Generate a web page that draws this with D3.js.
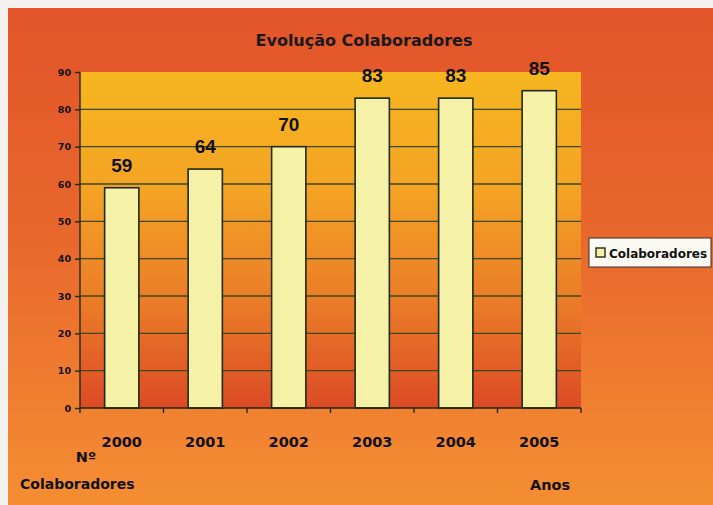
<!DOCTYPE html>
<meta charset="utf-8">
<script src="https://d3js.org/d3.v7.min.js"></script>
<style>
  body { margin: 0; background: #f4f2ee; }
  svg { display: block; }
</style>
<div id="chart"></div>
<script>
// data
var anos = ["2000", "2001", "2002", "2003", "2004", "2005"];
var colaboradores = [59, 64, 70, 83, 83, 85];
var yTicks = [0, 10, 20, 30, 40, 50, 60, 70, 80, 90];

var W = 713, H = 505;
var plot = {left: 80, right: 581, top: 72, bottom: 408};

var svg = d3.select("#chart").append("svg")
    .attr("width", W)
    .attr("height", H);

var defs = svg.append("defs");
var outer = defs.append("linearGradient").attr("id", "outer")
    .attr("x1", 0).attr("y1", 0).attr("x2", 0).attr("y2", 1);
outer.append("stop").attr("offset", "0%").attr("stop-color", "#e2542a");
outer.append("stop").attr("offset", "45%").attr("stop-color", "#e8672c");
outer.append("stop").attr("offset", "100%").attr("stop-color", "#f48e32");

var inner = defs.append("linearGradient").attr("id", "inner")
    .attr("x1", 0).attr("y1", 0).attr("x2", 0).attr("y2", 1);
inner.append("stop").attr("offset", "0%").attr("stop-color", "#f6b61f");
inner.append("stop").attr("offset", "35%").attr("stop-color", "#f4a324");
inner.append("stop").attr("offset", "70%").attr("stop-color", "#ea7a28");
inner.append("stop").attr("offset", "100%").attr("stop-color", "#dc4a26");

// page background (orange panel)
svg.append("rect")
    .attr("x", 8).attr("y", 8)
    .attr("width", W - 8).attr("height", H - 8)
    .attr("fill", "url(#outer)");

var x = d3.scaleBand()
    .domain(anos)
    .range([plot.left, plot.right])
    .paddingInner(0.59)
    .paddingOuter(0.295);

var y = d3.scaleLinear()
    .domain([0, 90])
    .range([plot.bottom, plot.top]);

// plot area
svg.append("rect")
    .attr("x", plot.left).attr("y", plot.top)
    .attr("width", plot.right - plot.left)
    .attr("height", plot.bottom - plot.top)
    .attr("fill", "url(#inner)");

// gridlines
svg.append("g")
  .selectAll("line")
  .data(yTicks.filter(function(d) { return d > 0 && d < 90; }))
  .enter().append("line")
    .attr("x1", plot.left).attr("x2", plot.right)
    .attr("y1", function(d) { return y(d); })
    .attr("y2", function(d) { return y(d); })
    .attr("stroke", "#3b4a1e")
    .attr("stroke-width", 1.4);

// bars
svg.append("g")
  .selectAll("rect")
  .data(colaboradores)
  .enter().append("rect")
    .attr("x", function(d, i) { return x(anos[i]); })
    .attr("y", function(d) { return y(d); })
    .attr("width", x.bandwidth())
    .attr("height", function(d) { return y(0) - y(d); })
    .attr("fill", "#f5f1a6")
    .attr("stroke", "#1e2a12")
    .attr("stroke-width", 1.6);

// value labels
svg.append("g")
  .selectAll("text")
  .data(colaboradores)
  .enter().append("text")
    .attr("x", function(d, i) { return x(anos[i]) + x.bandwidth() / 2; })
    .attr("y", function(d) { return y(d) - 16; })
    .attr("text-anchor", "middle")
    .style("font-family", "'Liberation Sans', Arial, sans-serif")
    .style("font-weight", "bold")
    .style("font-size", "19px")
    .style("fill", "#111")
    .text(function(d) { return d; });

var labelFont = "'DejaVu Sans', sans-serif";

// y axis
var yAxis = svg.append("g")
    .attr("transform", "translate(" + plot.left + ",0)")
    .call(d3.axisLeft(y).tickValues(yTicks).tickSize(5).tickPadding(4));
yAxis.select(".domain").attr("stroke", "#1e2a12").attr("stroke-width", 1.4)
    .attr("d", "M0," + (plot.bottom + 5) + "V" + plot.top);
yAxis.selectAll(".tick line").attr("stroke", "#1e2a12").attr("stroke-width", 1.4);
yAxis.selectAll("text")
    .style("font-family", labelFont)
    .style("font-weight", "bold")
    .style("font-size", "9.5px")
    .style("fill", "#111");

// x axis line with separator ticks
var xa = svg.append("g");
xa.append("line")
    .attr("x1", plot.left).attr("x2", plot.right)
    .attr("y1", plot.bottom).attr("y2", plot.bottom)
    .attr("stroke", "#1e2a12").attr("stroke-width", 1.4);
xa.selectAll("line.sep")
  .data(anos)
  .enter().append("line")
    .attr("class", "sep")
    .attr("x1", function(d) { return x(d) - x.step() * x.paddingInner() / 2 + x.step(); })
    .attr("x2", function(d) { return x(d) - x.step() * x.paddingInner() / 2 + x.step(); })
    .attr("y1", plot.bottom).attr("y2", plot.bottom + 5)
    .attr("stroke", "#1e2a12").attr("stroke-width", 1.4);

// year labels
svg.append("g")
  .selectAll("text")
  .data(anos)
  .enter().append("text")
    .attr("x", function(d) { return x(d) + x.bandwidth() / 2; })
    .attr("y", 447)
    .attr("text-anchor", "middle")
    .style("font-family", labelFont)
    .style("font-weight", "bold")
    .style("font-size", "14.5px")
    .style("fill", "#111")
    .text(function(d) { return d; });

// title
svg.append("text")
    .attr("x", 364).attr("y", 46)
    .attr("text-anchor", "middle")
    .style("font-family", labelFont)
    .style("font-weight", "bold")
    .style("font-size", "16px")
    .style("fill", "#1a1a1a")
    .text("Evolução Colaboradores");

// axis titles
svg.append("text")
    .attr("x", 86).attr("y", 462)
    .attr("text-anchor", "middle")
    .style("font-family", labelFont).style("font-weight", "bold")
    .style("font-size", "14.5px").style("fill", "#111")
    .text("Nº");
svg.append("text")
    .attr("x", 20).attr("y", 489)
    .style("font-family", labelFont).style("font-weight", "bold")
    .style("font-size", "14px").style("fill", "#111")
    .text("Colaboradores");
svg.append("text")
    .attr("x", 530).attr("y", 490)
    .style("font-family", labelFont).style("font-weight", "bold")
    .style("font-size", "14.5px").style("fill", "#111")
    .text("Anos");

// legend
var lg = svg.append("g").attr("transform", "translate(589,238)");
lg.append("rect")
    .attr("width", 122).attr("height", 29)
    .attr("fill", "#fbfaf2")
    .attr("stroke", "#333").attr("stroke-width", 1);
lg.append("rect")
    .attr("x", 7).attr("y", 10)
    .attr("width", 9).attr("height", 9)
    .attr("fill", "#f5f1a6")
    .attr("stroke", "#1e2a12").attr("stroke-width", 1.4);
lg.append("text")
    .attr("x", 20).attr("y", 19.5)
    .style("font-family", labelFont).style("font-weight", "bold")
    .style("font-size", "12px").style("fill", "#111")
    .text("Colaboradores");
</script>
